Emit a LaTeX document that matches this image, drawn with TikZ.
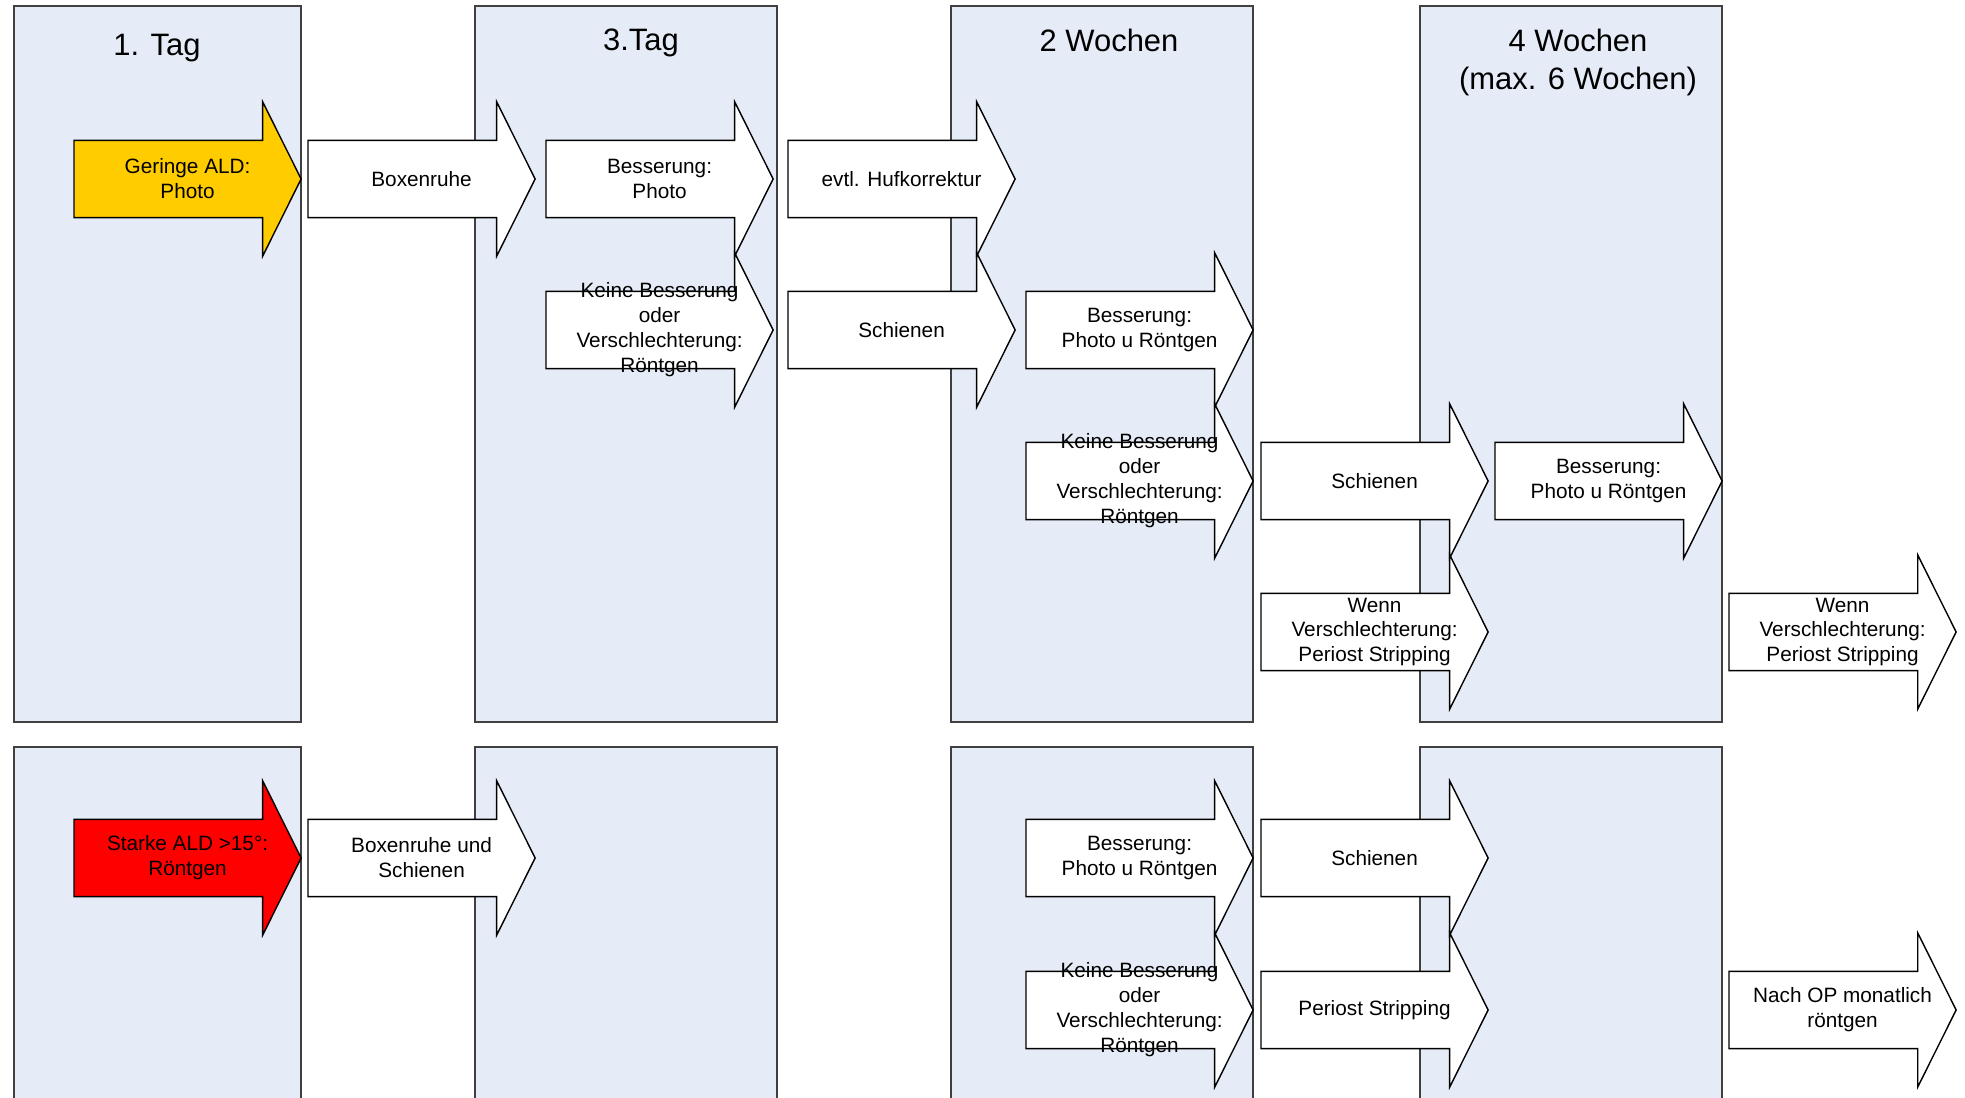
\documentclass[tikz,border=0pt]{standalone}
\usepackage{fontspec}
\setmainfont{Liberation Sans}
\usetikzlibrary{shapes.arrows}
\definecolor{phasebg}{RGB}{230,236,247}
\definecolor{gelb}{RGB}{255,204,0}
\definecolor{rot}{RGB}{255,0,0}

\begin{document}
\begin{tikzpicture}[x=0.01cm, y=-0.01cm,
	phase/.style={draw=black!75, fill=phasebg, line width=0.5pt},
	kopf/.style={anchor=north, inner sep=0pt, align=center, font=\fontsize{8.8}{11}\selectfont},
	pfeil/.style={single arrow, draw=black, fill=white, line width=0.4pt, inner xsep=0pt, inner ysep=0.3785cm,
		outer sep=0pt, minimum height=2.27cm, single arrow head extend=0.385cm,
		single arrow tip angle=127, anchor=tail},
	txt/.style={align=center, inner sep=0pt, font=\fontsize{5.9}{7.1}\selectfont}]
				\useasboundingbox (0,0) rectangle (1965,1098);
				\clip (0,0) rectangle (1965,1098);
				% Zeitabschnitte
				\draw[phase] (14,6) rectangle (301,722);
				\draw[phase] (475,6) rectangle (777,722);
				\draw[phase] (951,6) rectangle (1253,722);
				\draw[phase] (1420,6) rectangle (1722,722);
				\draw[phase] (14,747) rectangle (301,1110);
				\draw[phase] (475,747) rectangle (777,1110);
				\draw[phase] (951,747) rectangle (1253,1110);
				\draw[phase] (1420,747) rectangle (1722,1110);
				\node[kopf] (tag1) at (157,34) {1. Tag};
				\node[kopf] (tag3) at (641,28) {3.Tag};
				\node[kopf] (woche2) at (1109,28) {2 Wochen};
				\node[kopf] (woche4) at (1578,28) {4 Wochen\\(max. 6 Wochen)};
				% obere Reihe: geringe ALD
				\node[pfeil, fill=gelb] (geringe) at (74,179) {};
				\path (geringe.tail) -- (geringe.tip) node[midway, txt] {Geringe ALD:\\Photo};
				\node[pfeil] (boxenruhe) at (308,179) {};
				\path (boxenruhe.tail) -- (boxenruhe.tip) node[midway, txt] {Boxenruhe};
				\node[pfeil] (bess1) at (546,179) {};
				\path (bess1.tail) -- (bess1.tip) node[midway, txt] {Besserung:\\Photo};
				\node[pfeil] (huf) at (788,179) {};
				\path (huf.tail) -- (huf.tip) node[midway, txt] {evtl. Hufkorrektur};
				\node[pfeil] (keine1) at (546,330) {};
				\path (keine1.tail) -- (keine1.tip) node[midway, txt] {Keine Besserung\\oder\\Verschlechterung:\\Röntgen};
				\node[pfeil] (schienen1) at (788,330) {};
				\path (schienen1.tail) -- (schienen1.tip) node[midway, txt] {Schienen};
				\node[pfeil] (bess2) at (1026,330) {};
				\path (bess2.tail) -- (bess2.tip) node[midway, txt] {Besserung:\\Photo u Röntgen};
				\node[pfeil] (keine2) at (1026,481) {};
				\path (keine2.tail) -- (keine2.tip) node[midway, txt] {Keine Besserung\\oder\\Verschlechterung:\\Röntgen};
				\node[pfeil] (schienen2) at (1261,481) {};
				\path (schienen2.tail) -- (schienen2.tip) node[midway, txt] {Schienen};
				\node[pfeil] (bess3) at (1495,481) {};
				\path (bess3.tail) -- (bess3.tip) node[midway, txt] {Besserung:\\Photo u Röntgen};
				\node[pfeil] (wenn1) at (1261,632) {};
				\path (wenn1.tail) -- (wenn1.tip) node[midway, txt] {Wenn\\Verschlechterung:\\Periost Stripping};
				\node[pfeil] (wenn2) at (1729,632) {};
				\path (wenn2.tail) -- (wenn2.tip) node[midway, txt] {Wenn\\Verschlechterung:\\Periost Stripping};
				% untere Reihe: starke ALD
				\node[pfeil, fill=rot] (starke) at (74,858) {};
				\path (starke.tail) -- (starke.tip) node[midway, txt] {Starke ALD >15°:\\Röntgen};
				\node[pfeil] (boxschienen) at (308,858) {};
				\path (boxschienen.tail) -- (boxschienen.tip) node[midway, txt] {Boxenruhe und\\Schienen};
				\node[pfeil] (bess4) at (1026,858) {};
				\path (bess4.tail) -- (bess4.tip) node[midway, txt] {Besserung:\\Photo u Röntgen};
				\node[pfeil] (schienen3) at (1261,858) {};
				\path (schienen3.tail) -- (schienen3.tip) node[midway, txt] {Schienen};
				\node[pfeil] (keine3) at (1026,1010) {};
				\path (keine3.tail) -- (keine3.tip) node[midway, txt] {Keine Besserung\\oder\\Verschlechterung:\\Röntgen};
				\node[pfeil] (periost) at (1261,1010) {};
				\path (periost.tail) -- (periost.tip) node[midway, txt] {Periost Stripping};
				\node[pfeil] (nachop) at (1729,1010) {};
				\path (nachop.tail) -- (nachop.tip) node[midway, txt] {Nach OP monatlich\\röntgen};
\end{tikzpicture}
\end{document}
